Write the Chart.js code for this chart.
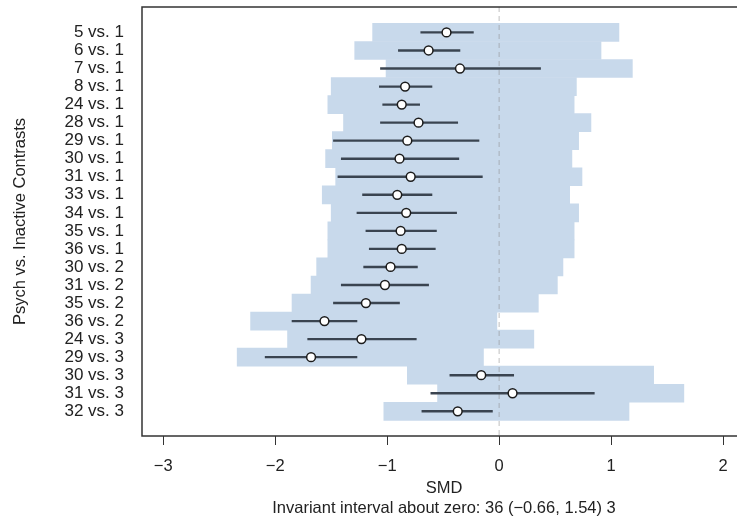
<!DOCTYPE html>
<html>
<head>
<meta charset="utf-8">
<script src="https://cdn.jsdelivr.net/npm/chart.js@4.4.1/dist/chart.umd.min.js"></script>
<style>
  html, body { margin: 0; padding: 0; background: #ffffff; overflow: hidden; }
  #wrap { width: 737px; height: 517px; overflow: hidden; position: relative; }
  canvas { position: absolute; left: 0; top: 0; }
</style>
</head>
<body>
<div id="wrap"><canvas id="c" width="760" height="517"></canvas></div>
<script>
// ---- data ----
const labels = ['5 vs. 1','6 vs. 1','7 vs. 1','8 vs. 1','24 vs. 1','28 vs. 1','29 vs. 1','30 vs. 1','31 vs. 1','33 vs. 1','34 vs. 1','35 vs. 1','36 vs. 1','30 vs. 2','31 vs. 2','35 vs. 2','36 vs. 2','24 vs. 3','29 vs. 3','30 vs. 3','31 vs. 3','32 vs. 3'];
const smd      = [-0.47,-0.63,-0.35,-0.84,-0.87,-0.72,-0.82,-0.89,-0.79,-0.91,-0.83,-0.88,-0.87,-0.97,-1.02,-1.19,-1.56,-1.23,-1.68,-0.16, 0.12,-0.37];
const ciLow    = [-0.70,-0.90,-1.06,-1.07,-1.04,-1.06,-1.48,-1.41,-1.44,-1.22,-1.27,-1.19,-1.16,-1.21,-1.41,-1.48,-1.85,-1.71,-2.09,-0.44,-0.61,-0.69];
const ciHigh   = [-0.23,-0.35, 0.37,-0.60,-0.71,-0.37,-0.18,-0.36,-0.15,-0.60,-0.38,-0.56,-0.57,-0.73,-0.63,-0.89,-1.27,-0.74,-1.27, 0.13, 0.85,-0.06];
const bandLow  = [-1.13,-1.29,-1.01,-1.50,-1.53,-1.39,-1.49,-1.55,-1.46,-1.58,-1.50,-1.53,-1.53,-1.63,-1.68,-1.85,-2.22,-1.89,-2.34,-0.82,-0.55,-1.03];
const bandHigh = [ 1.07, 0.91, 1.19, 0.69, 0.67, 0.82, 0.71, 0.65, 0.74, 0.63, 0.71, 0.67, 0.67, 0.57, 0.52, 0.35,-0.02, 0.31,-0.14, 1.38, 1.65, 1.16];
const xTicks   = [-3, -2, -1, 0, 1, 2];
const refValue = 0;
const xTitle   = 'SMD';
const xSubtitle = 'Invariant interval about zero: 36 (\u22120.66, 1.54) 3';
const yTitle   = 'Psych vs. Inactive Contrasts';

// ---- axis ranges ----
const xMin = -3.19, xMax = 2.205;
const yMin = -0.41, yMax = 23.37;

const rowPos = labels.map((_, i) => i + 1);
const FONT = '"Liberation Sans", Arial, Helvetica, sans-serif';

const boxPlugin = {
  id: 'box',
  afterDraw(chart) {
    const { ctx, chartArea: a } = chart;
    ctx.save();
    ctx.strokeStyle = '#333333';
    ctx.lineWidth = 1.5;
    ctx.strokeRect(a.left, a.top, a.right - a.left, a.bottom - a.top);
    ctx.restore();
  }
};

new Chart(document.getElementById('c'), {
  type: 'bar',
  data: {
    datasets: [
      {
        type: 'bar',
        data: rowPos.map((y, i) => ({ y, x: [bandLow[i], bandHigh[i]] })),
        backgroundColor: 'rgb(200,217,235)',
        borderWidth: 0,
        barPercentage: 1,
        categoryPercentage: 1,
        grouped: false,
        order: 4
      },
      {
        type: 'line',
        data: [{ x: refValue, y: yMin }, { x: refValue, y: yMax }],
        borderColor: 'rgba(140,140,140,0.55)',
        borderWidth: 1,
        borderDash: [5, 4],
        pointRadius: 0,
        fill: false,
        order: 3
      },
      {
        type: 'bar',
        data: rowPos.map((y, i) => ({ y, x: [ciLow[i], ciHigh[i]] })),
        backgroundColor: '#3a4450',
        borderWidth: 0,
        barThickness: 1.7,
        grouped: false,
        order: 2
      },
      {
        type: 'scatter',
        data: rowPos.map((y, i) => ({ x: smd[i], y })),
        pointRadius: 4.4,
        pointBorderWidth: 1.5,
        pointBackgroundColor: '#ffffff',
        pointBorderColor: '#1c1c1c',
        order: 1
      }
    ]
  },
  options: {
    indexAxis: 'y',
    responsive: false,
    animation: false,
    devicePixelRatio: 1,
    layout: { padding: { top: 7, right: 14, left: 0, bottom: 0 } },
    plugins: { legend: { display: false }, tooltip: { enabled: false } },
    scales: {
      x: {
        type: 'linear',
        position: 'bottom',
        min: xMin,
        max: xMax,
        afterBuildTicks: s => { s.ticks = xTicks.map(v => ({ value: v })); },
        afterFit: s => { s.height = 81; s.paddingLeft = 0; s.paddingRight = 0; },
        border: { display: false },
        grid: { drawOnChartArea: false, drawTicks: true, tickLength: 9, tickColor: '#333333', tickWidth: 1 },
        ticks: {
          padding: 12,
          color: '#222222',
          font: { family: FONT, size: 16.5 },
          callback: v => v < 0 ? '\u2212' + Math.abs(v) : String(v)
        },
        title: {
          display: true,
          text: [xTitle, xSubtitle],
          color: '#222222',
          font: { family: FONT, size: 16.5, lineHeight: 1.2 },
          padding: { top: 0, bottom: -1 }
        }
      },
      y: {
        type: 'linear',
        reverse: true,
        offset: false,
        min: yMin,
        max: yMax,
        afterBuildTicks: s => { s.ticks = rowPos.map(v => ({ value: v })); },
        afterFit: s => { s.width = 142; s.paddingTop = 0; s.paddingBottom = 0; },
        border: { display: false },
        grid: { drawOnChartArea: false, drawTicks: false, offset: false },
        ticks: {
          autoSkip: false,
          padding: 18,
          color: '#222222',
          font: { family: FONT, size: 17 },
          callback: v => labels[v - 1] ?? ''
        },
        title: {
          display: true,
          text: yTitle,
          color: '#222222',
          font: { family: FONT, size: 16.5, lineHeight: 1.2 },
          padding: { top: 11, bottom: 0 }
        }
      }
    }
  },
  plugins: [boxPlugin]
});
</script>
</body>
</html>
